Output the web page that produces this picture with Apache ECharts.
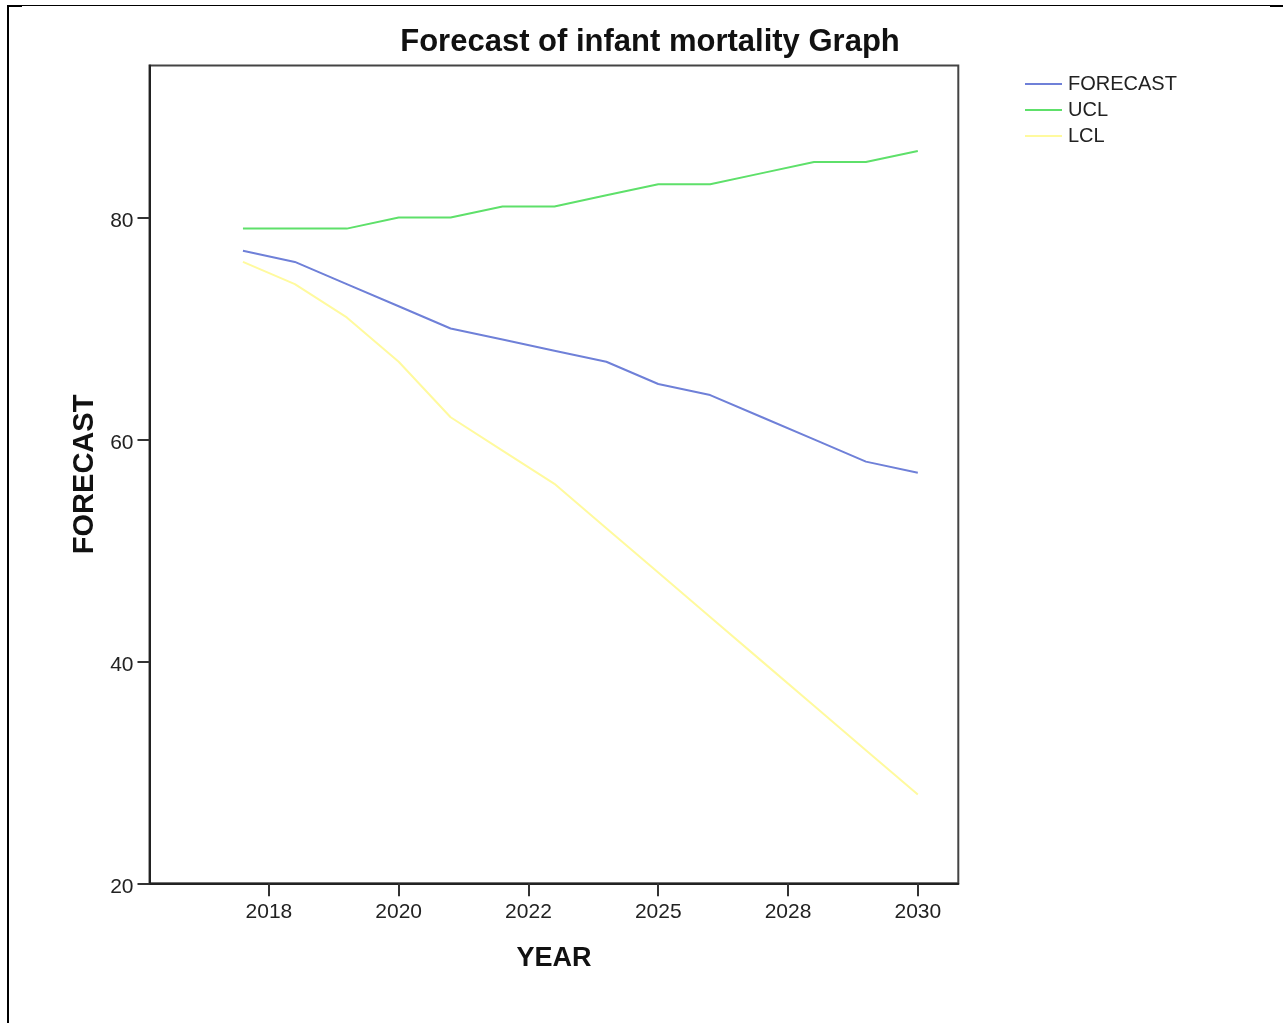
<!DOCTYPE html>
<html>
<head>
<meta charset="utf-8">
<script src="https://cdn.jsdelivr.net/npm/echarts@6/dist/echarts.min.js"></script>
<style>html,body{margin:0;padding:0;background:#fff;}#c{width:1283px;height:1023px;}</style>
</head>
<body>
<div id="c"></div>
<script>
// Data (14 yearly points; x position = point index)
const pointIndex = [0,1,2,3,4,5,6,7,8,9,10,11,12,13];
const forecast = [77,76,74,72,70,69,68,67,65,64,62,60,58,57];
const ucl      = [79,79,79,80,80,81,81,82,83,83,84,85,85,86];
const lcl      = [76,74,71,67,62,59,56,52,48,44,40,36,32,28];
// Tick labels on the year axis and where they sit on the point-index scale
const tickPositions = [0.5,3,5.5,8,10.5,13];
const tickLabels = ['2018','2020','2022','2025','2028','2030'];
const yTicks = [20,40,60,80];

const pair = arr => arr.map((v,i)=>[pointIndex[i], v]);
const font = "'Liberation Sans', Arial, sans-serif";

const chart = echarts.init(document.getElementById('c'), null, {renderer:'canvas'});
chart.setOption({
  backgroundColor:'#fff',
  animation:false,
  title:{
    text:'Forecast of infant mortality Graph',
    left:645, top:22, textAlign:'center',
    textStyle:{fontFamily:font, fontSize:31, fontWeight:'bold', color:'#111'}
  },
  legend:{
    orient:'vertical', left:1025, top:74, padding:0, itemWidth:37, itemHeight:2, itemGap:6,
    icon:'rect',
    textStyle:{fontFamily:font, fontSize:20, color:'#222', padding:[0,0,0,1]},
    data:['FORECAST','UCL','LCL']
  },
  grid:{left:149.5, top:65.5, right:324.7, bottom:139.7, show:true, borderColor:'#444', borderWidth:2, backgroundColor:'#fff'},
  xAxis:{
    type:'value', min:-1.80, max:13.78,
    name:'YEAR', nameLocation:'middle', nameGap:62,
    nameTextStyle:{fontFamily:font, fontSize:27, fontWeight:'bold', color:'#111'},
    axisLine:{show:true, onZero:false, lineStyle:{color:'#222', width:2}},
    axisTick:{show:true, inside:false, length:13, customValues:tickPositions, lineStyle:{color:'#333', width:2}},
    axisLabel:{customValues:tickPositions, margin:18, fontFamily:font, fontSize:21, color:'#222',
      formatter:function(v){ const k = tickPositions.findIndex(p=>Math.abs(p-v)<1e-6); return k>=0?tickLabels[k]:''; }},
    splitLine:{show:false}
  },
  yAxis:{
    type:'value', min:20, max:93.7,
    name:'FORECAST', nameLocation:'middle', nameGap:47, nameRotate:90,
    nameTextStyle:{fontFamily:font, fontSize:29, fontWeight:'bold', color:'#111'},
    axisLine:{show:true, onZero:false, lineStyle:{color:'#222', width:2}},
    axisTick:{show:true, inside:false, length:12, customValues:yTicks, lineStyle:{color:'#333', width:2}},
    axisLabel:{customValues:yTicks, margin:16, fontFamily:font, fontSize:21, color:'#222', verticalAlign:'top', lineHeight:8},
    splitLine:{show:false}
  },
  series:[
    {name:'FORECAST', type:'line', data:pair(forecast), showSymbol:false, symbol:'none', color:'#6F80D8', lineStyle:{width:2, color:'#6F80D8'}},
    {name:'UCL', type:'line', data:pair(ucl), showSymbol:false, symbol:'none', color:'#5EE06A', lineStyle:{width:2, color:'#5EE06A'}},
    {name:'LCL', type:'line', data:pair(lcl), showSymbol:false, symbol:'none', color:'#FFFA9E', lineStyle:{width:2, color:'#FFFA9E'}}
  ],
  graphic:[
    {type:'line', shape:{x1:8, y1:5, x2:8, y2:1023}, style:{stroke:'#000', lineWidth:2}},
    {type:'line', shape:{x1:7, y1:5.5, x2:1283, y2:5.5}, style:{stroke:'#000', lineWidth:1}},
    {type:'line', shape:{x1:7, y1:6, x2:22, y2:6}, style:{stroke:'#000', lineWidth:2}},
    {type:'line', shape:{x1:1270, y1:6, x2:1283, y2:6}, style:{stroke:'#000', lineWidth:2}}
  ]
});
</script>
</body>
</html>
